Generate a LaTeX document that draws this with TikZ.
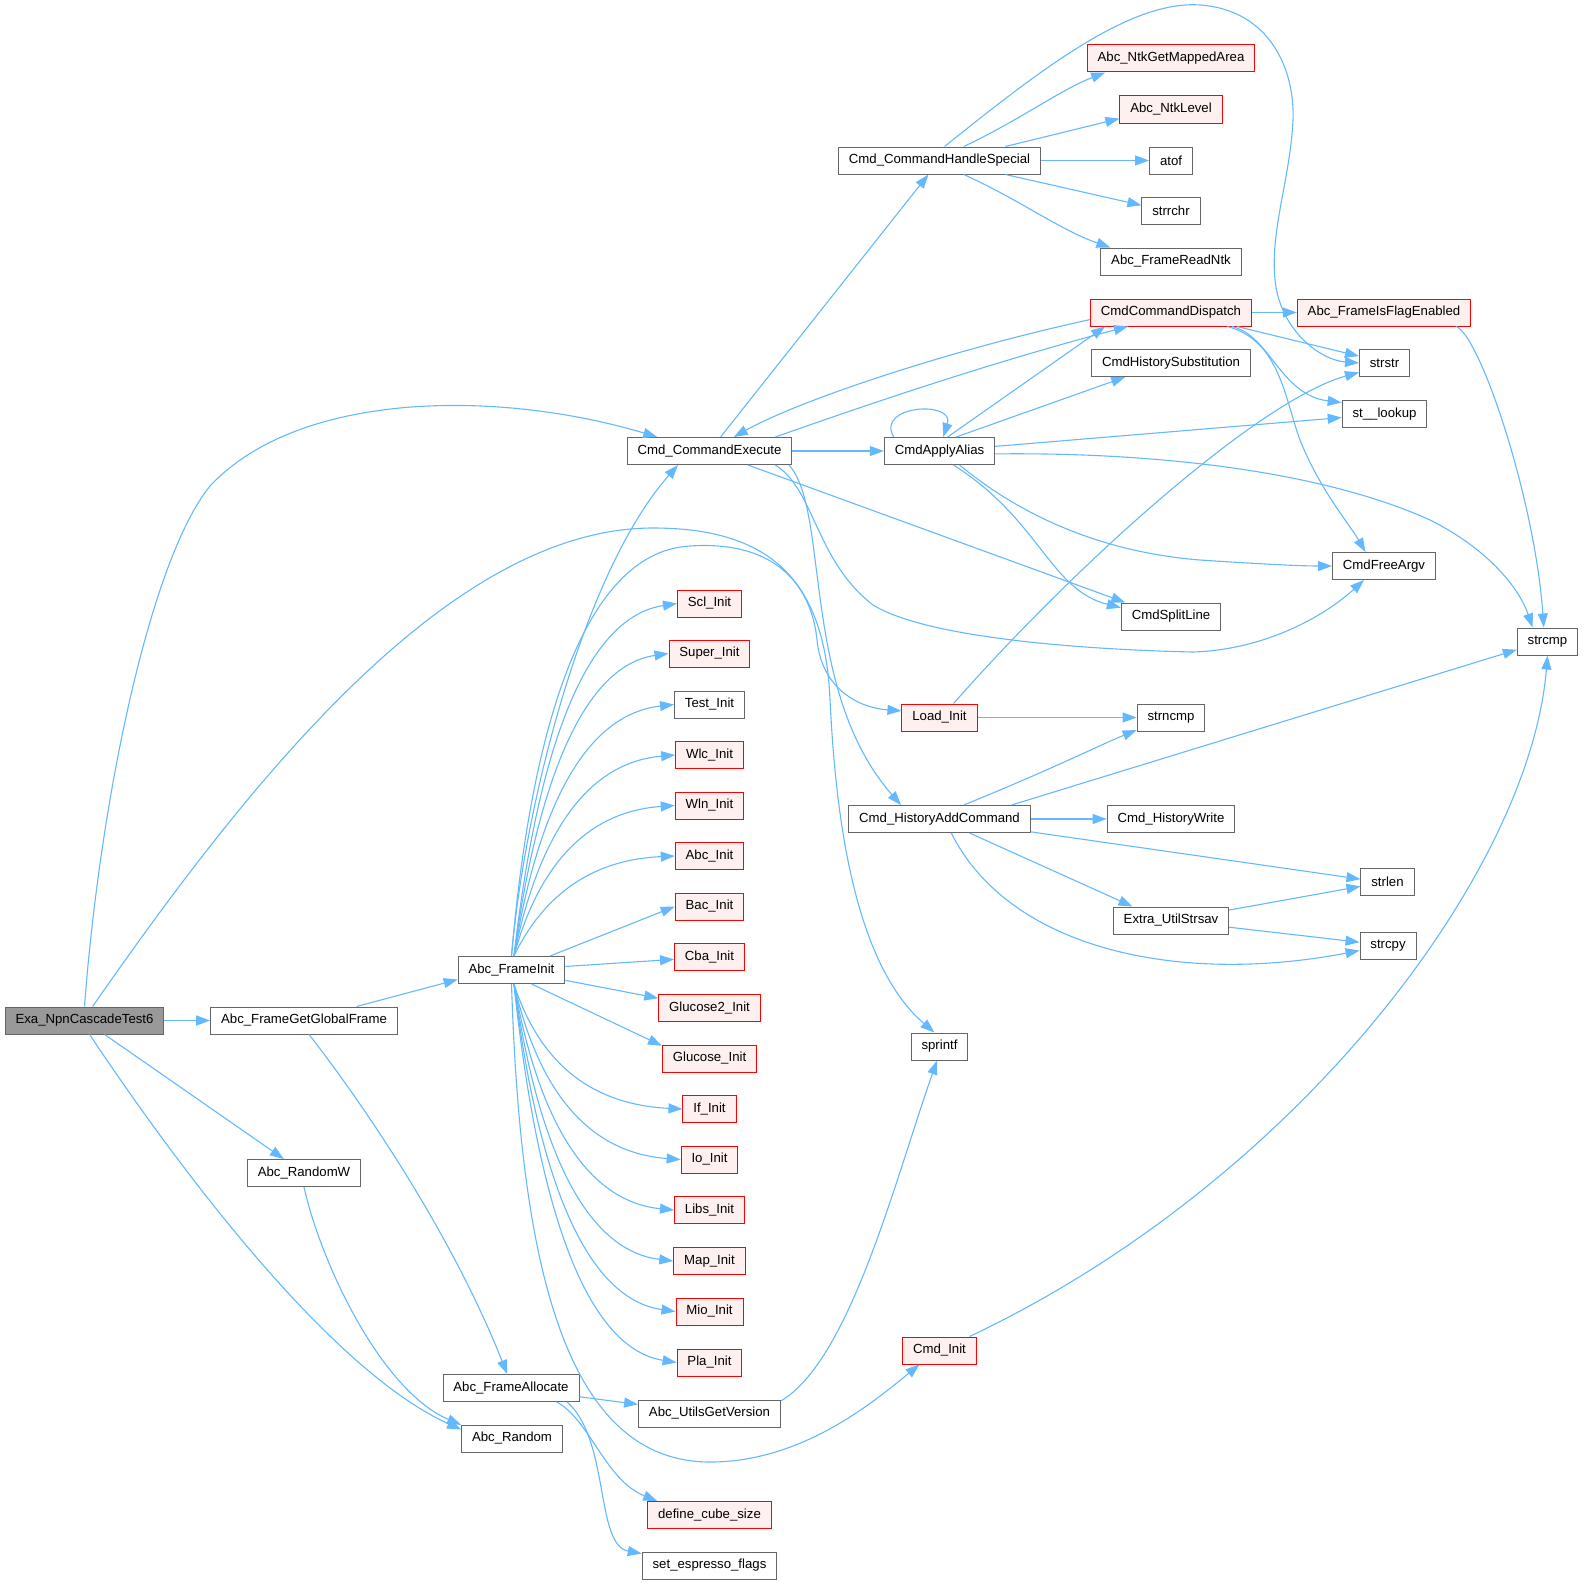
\documentclass[tikz,border=0pt]{standalone}
\usepackage{fontspec}
\setsansfont{Liberation Sans}
\usepackage{xcolor}
\usetikzlibrary{arrows.meta}
\definecolor{edgeblue}{HTML}{63B8FF}
\definecolor{boxgray}{HTML}{666666}
\definecolor{redline}{HTML}{FF0000}
\definecolor{redfill}{HTML}{FFF0F0}
\definecolor{rootfill}{HTML}{999999}

\begin{document}
\begin{tikzpicture}[x=0.5pt,y=-0.5pt,font=\sffamily\fontsize{6.6}{8}\selectfont,
  fn/.style={draw=boxgray,fill=white,line width=0.5pt,minimum height=13.5pt,inner xsep=5.2pt,inner ysep=0pt},
  fnred/.style={fn,draw=redline,fill=redfill},
  fnroot/.style={fn,fill=rootfill},
  call/.style={draw=edgeblue,line width=0.55pt,-{Triangle[length=7pt,width=5pt]}}]
\useasboundingbox (0,0) rectangle (1588,1584);
\node[fnroot] (exa) at (84.5,1020.5) {Exa\_NpnCascadeTest6};
\node[fn] (ggf) at (304,1020.5) {Abc\_FrameGetGlobalFrame};
\node[fn] (rw) at (304,1173) {Abc\_RandomW};
\node[fn] (fa) at (511,1388) {Abc\_FrameAllocate};
\node[fn] (rnd) at (512,1438.5) {Abc\_Random};
\node[fn] (fi) at (511.5,970) {Abc\_FrameInit};
\node[fn] (exec) at (709.5,451) {Cmd\_CommandExecute};
\node[fnred] (scl) at (709.5,603.5) {Scl\_Init};
\node[fnred] (super) at (709.5,653.5) {Super\_Init};
\node[fn] (test) at (709.5,704.5) {Test\_Init};
\node[fnred] (wlc) at (709.5,755) {Wlc\_Init};
\node[fnred] (wln) at (709.5,805.5) {Wln\_Init};
\node[fnred] (abc) at (709.5,856) {Abc\_Init};
\node[fnred] (bac) at (709.5,906.5) {Bac\_Init};
\node[fnred] (cba) at (709.5,957) {Cba\_Init};
\node[fnred] (gl2) at (709.5,1008) {Glucose2\_Init};
\node[fnred] (gl) at (709.5,1058.5) {Glucose\_Init};
\node[fnred] (iff) at (709.5,1109) {If\_Init};
\node[fnred] (io) at (709.5,1159.5) {Io\_Init};
\node[fnred] (libs) at (709.5,1210) {Libs\_Init};
\node[fnred] (map) at (709.5,1261) {Map\_Init};
\node[fnred] (mio) at (709.5,1311.5) {Mio\_Init};
\node[fnred] (pla) at (709.5,1362.5) {Pla\_Init};
\node[fn] (ver) at (709.5,1413.5) {Abc\_UtilsGetVersion};
\node[fnred] (cube) at (709.5,1515) {define\_cube\_size};
\node[fn] (esp) at (709.5,1565.5) {set\_espresso\_flags};
\node[fn] (chs) at (939.5,160.5) {Cmd\_CommandHandleSpecial};
\node[fn] (alias) at (939.5,451) {CmdApplyAlias};
\node[fnred] (load) at (939.5,717.5) {Load\_Init};
\node[fn] (hac) at (939.5,819) {Cmd\_HistoryAddCommand};
\node[fn] (spf) at (939.5,1046.5) {sprintf};
\node[fnred] (cinit) at (939.5,1350.5) {Cmd\_Init};
\node[fnred] (area) at (1171,58.5) {Abc\_NtkGetMappedArea};
\node[fnred] (lev) at (1171,109.5) {Abc\_NtkLevel};
\node[fn] (atof) at (1171,160.5) {atof};
\node[fn] (rchr) at (1171,210.5) {strrchr};
\node[fn] (rntk) at (1171,261.5) {Abc\_FrameReadNtk};
\node[fnred] (disp) at (1171,312.5) {CmdCommandDispatch};
\node[fn] (hsub) at (1171,363) {CmdHistorySubstitution};
\node[fn] (split) at (1171,616.5) {CmdSplitLine};
\node[fn] (ncmp) at (1171,717.5) {strncmp};
\node[fn] (hwr) at (1171,819) {Cmd\_HistoryWrite};
\node[fn] (sav) at (1171,920.5) {Extra\_UtilStrsav};
\node[fnred] (flag) at (1384,312.5) {Abc\_FrameIsFlagEnabled};
\node[fn] (sstr) at (1384.5,363) {strstr};
\node[fn] (look) at (1384.5,414) {st\_\_lookup};
\node[fn] (argv) at (1384,566) {CmdFreeArgv};
\node[fn] (slen) at (1387.5,881.5) {strlen};
\node[fn] (scpy) at (1388,945.5) {strcpy};
\node[fn] (scmp) at (1547.5,641.5) {strcmp};
\draw[call] (exa.north) .. controls (100,800) and (150,560) .. (210,486) .. controls (300,390) and (500,390) .. (exec.165);
\draw[call] (exa.60) .. controls (250,780) and (450,528) .. (653,528) .. controls (770,528) and (825,580) .. (830,700) .. controls (835,800) and (850,960) .. (spf.110);
\draw[call] (exa) -- (ggf);
\draw[call] (exa) -- (rw);
\draw[call] (exa.-70) .. controls (180,1170) and (330,1370) .. (rnd.170);
\draw[call] (ggf) -- (fi.190);
\draw[call] (ggf.-70) .. controls (360,1100) and (450,1230) .. (fa.105);
\draw[call] (rw.south) .. controls (320,1260) and (380,1390) .. (rnd.165);
\draw[call] (fi.north) .. controls (525,800) and (585,570) .. (exec.-156);
\draw[call] (fi.80) .. controls (536,763) and (581,618) .. (scl.west);
\draw[call] (fi.80) .. controls (536,790) and (581,666) .. (super.west);
\draw[call] (fi.80) .. controls (536,818) and (581,715) .. (test.west);
\draw[call] (fi.80) .. controls (536,846) and (581,763) .. (wlc.west);
\draw[call] (fi.80) .. controls (536,874) and (581,812) .. (wln.west);
\draw[call] (fi.80) .. controls (540,902) and (585,860) .. (abc.west);
\draw[call] (fi.20) -- (bac.west);
\draw[call] (fi) -- (cba);
\draw[call] (fi) -- (gl2);
\draw[call] (fi.-35) -- (gl.165);
\draw[call] (fi.-80) .. controls (536,1052) and (581,1104) .. (iff.west);
\draw[call] (fi.-80) .. controls (536,1080) and (581,1152) .. (io.west);
\draw[call] (fi.-80) .. controls (536,1108) and (581,1201) .. (libs.west);
\draw[call] (fi.-80) .. controls (536,1136) and (581,1250) .. (map.west);
\draw[call] (fi.-80) .. controls (536,1164) and (581,1298) .. (mio.west);
\draw[call] (fi.-80) .. controls (536,1192) and (581,1347) .. (pla.west);
\draw[call] (fi.north) .. controls (530,740) and (580,552) .. (690,546) .. controls (780,540) and (812,590) .. (817,640) .. controls (822,690) and (860,708) .. (load.170);
\draw[call] (fi.south) .. controls (520,1250) and (560,1462) .. (710,1462) .. controls (800,1462) and (870,1405) .. (cinit.-145);
\draw[call] (fa) -- (ver);
\draw[call] (fa.-17) .. controls (590,1420) and (605,1480) .. (cube.165);
\draw[call] (fa.-14) .. controls (610,1440) and (595,1545) .. (esp.170);
\draw[call] (ver.10) .. controls (850,1360) and (895,1180) .. (spf.-100);
\draw[call] (cinit.25) .. controls (1300,1180) and (1530,870) .. (scmp.south);
\draw[call] (exec) -- (chs);
\draw[call] (exec) -- (alias);
\draw[call] (exec.12) .. controls (880,400) and (1000,360) .. (disp.-162);
\draw[call] (disp.-175) .. controls (950,350) and (800,400) .. (exec.30);
\draw[call] (exec.-20) -- (split.163);
\draw[call] (exec.-12) .. controls (815,490) and (815,560) .. (873,605) .. controls (930,640) and (1100,650) .. (1193,652) .. controls (1260,650) and (1320,620) .. (argv.-145);
\draw[call] (exec.-10) .. controls (830,510) and (800,690) .. (hac.160);
\draw[call] (alias.163) .. controls (875,405) and (955,400) .. (alias.75);
\draw[call] (alias.60) -- (disp.-168);
\draw[call] (alias.40) -- (hsub.-163);
\draw[call] (alias) -- (look);
\draw[call] (alias.-3) .. controls (1150,452) and (1320,470) .. (1430,520) .. controls (1490,550) and (1520,590) .. (scmp.137);
\draw[call] (alias.-35) .. controls (1020,515) and (1100,552) .. (1200,560) .. controls (1260,564) and (1300,566) .. (argv.west);
\draw[call] (alias.-45) .. controls (1040,520) and (1050,590) .. (split.170);
\draw[call] (disp) -- (flag);
\draw[call] (disp.-12) -- (sstr.165);
\draw[call] (disp.-13) .. controls (1270,335) and (1280,395) .. (look.165);
\draw[call] (disp.-14) .. controls (1280,340) and (1285,400) .. (1300,440) .. controls (1320,490) and (1350,525) .. (argv.143);
\draw[call] (flag.-11) .. controls (1480,335) and (1535,500) .. (scmp.105);
\draw[call] (chs.70) .. controls (1040,70) and (1130,0) .. (1200,5) .. controls (1270,10) and (1295,70) .. (1293,120) .. controls (1290,180) and (1270,230) .. (1275,280) .. controls (1280,330) and (1320,360) .. (sstr.west);
\draw[call] (chs.30) .. controls (1020,120) and (1060,90) .. (area.-168);
\draw[call] (chs.12) -- (lev.190);
\draw[call] (chs) -- (atof);
\draw[call] (chs.-12) -- (rchr.170);
\draw[call] (chs.-30) .. controls (1020,200) and (1060,230) .. (rntk.167);
\draw[call] (load.45) .. controls (1080,560) and (1260,400) .. (sstr.-160);
\draw[call] (load) -- (ncmp);
\draw[call] (hac.30) .. controls (1050,770) and (1100,745) .. (ncmp.-160);
\draw[call] (hac.11) -- (scmp.-165);
\draw[call] (hac) -- (hwr);
\draw[call] (hac.-8) -- (slen.175);
\draw[call] (hac.-25) -- (sav.160);
\draw[call] (hac.-50) .. controls (1010,950) and (1180,985) .. (scpy.-170);
\draw[call] (sav) -- (slen);
\draw[call] (sav) -- (scpy);
\end{tikzpicture}
\end{document}
